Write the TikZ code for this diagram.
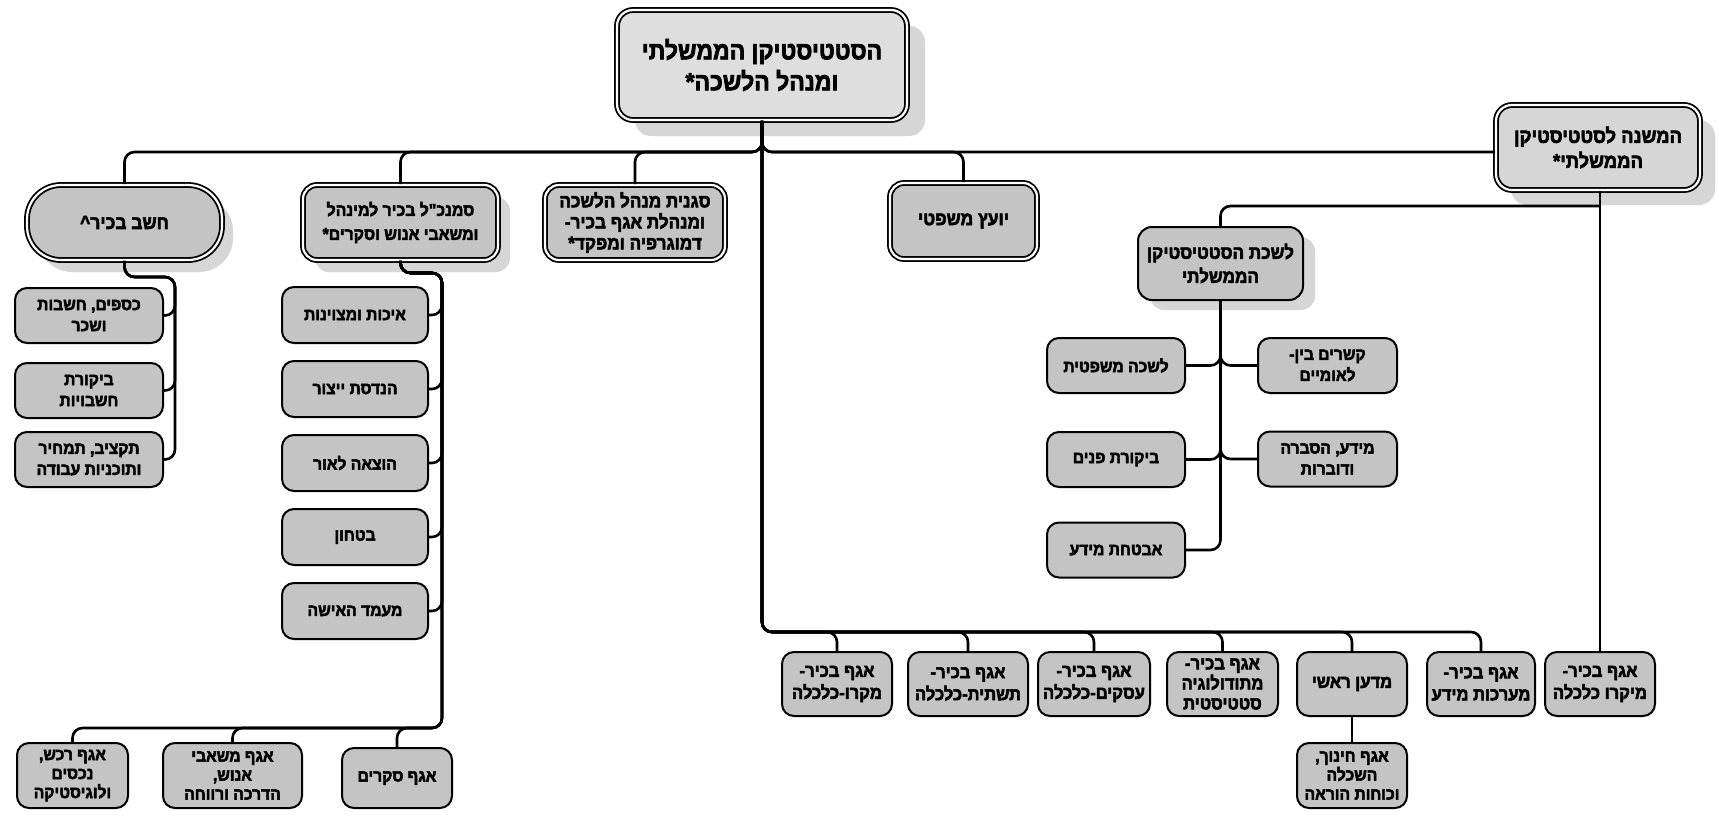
\documentclass[tikz,border=0pt]{standalone}
\usepackage{fontspec}
\newfontfamily\hebfont[Script=Hebrew, UprightFont={* Bold}, FakeBold=2.8, FakeStretch=0.92]{Liberation Sans}
\TeXXeTstate=1
\usetikzlibrary{shadows}
\newcommand\hb[1]{\beginR #1\endR}
\newcommand\fs[2]{\fontsize{#1}{#2}\selectfont}
\tikzset{
  conn/.style={line width=1.3pt, rounded corners=5pt},
  box/.style={draw=black, line width=1pt, fill=black!23, rounded corners=6pt, align=center, inner sep=0pt, font=\hebfont\fs{8.5}{10.5}},
  dbl/.style={double=white, double distance=1.1pt, line width=0.9pt},
  wh/.style 2 args={minimum width=#1*0.5pt, minimum height=#2*0.5pt},
  every shadow/.style={fill=black!16, opacity=1},
  botbox/.style={box, font=\hebfont\fs{9}{11}},
  tribox/.style={box, font=\hebfont\fs{8.5}{9.5}}
}
\begin{document}
\begin{tikzpicture}[x=0.5pt,y=-0.5pt]
\fill[white] (0,0) rectangle (1719,815);
\useasboundingbox (0,0) rectangle (1719,815);

% top level
\node[box, dbl, drop shadow={shadow xshift=9pt, shadow yshift=-8pt}, wh={290}{110}, rounded corners=8pt, fill=black!13, font=\hebfont\fs{12.5}{15.5}] (main) at (762,65) {\hb{הסטטיסטיקן הממשלתי}\\\hb{ומנהל הלשכה*}};
\node[box, dbl, drop shadow={shadow xshift=7.5pt, shadow yshift=-7.5pt}, wh={204}{85}, rounded corners=8pt, fill=black!16, font=\hebfont\fs{10}{12.5}] (deputy) at (1598,147.5) {\hb{המשנה לסטטיסטיקן}\\\hb{הממשלתי*}};

% second row
\node[box, dbl, drop shadow={shadow xshift=5.5pt, shadow yshift=-6pt}, wh={195}{75}, rounded corners=17pt, font=\hebfont\fs{9.5}{12}] (chashav) at (124.5,222.5) {\hb{חשב בכיר\^{}}};
\node[box, dbl, drop shadow={shadow xshift=6pt, shadow yshift=-6pt}, wh={195}{75}, rounded corners=7pt, font=\hebfont\fs{8.6}{12}] (samankal) at (400.5,222.5) {\hb{סמנכ"ל בכיר למינהל}\\\hb{ומשאבי אנוש וסקרים*}};
\node[box, dbl, wh={180}{75}, rounded corners=7pt, font=\hebfont\fs{9.3}{10.5}] (sganit) at (635,222.5) {\hb{סגנית מנהל הלשכה}\\\hb{ומנהלת אגף בכיר-}\\\hb{דמוגרפיה ומפקד*}};
\node[box, dbl, wh={147}{76}, rounded corners=7pt, font=\hebfont\fs{9.5}{11}] (legal) at (963.5,221) {\hb{יועץ משפטי}};
\node[box, drop shadow={shadow xshift=6pt, shadow yshift=-5pt}, wh={165}{73}, rounded corners=7pt, font=\hebfont\fs{9.3}{12}] (lishkat) at (1220.5,263.5) {\hb{לשכת הסטטיסטיקן}\\\hb{הממשלתי}};

% chashav children
\node[box, wh={148}{55}] (ch1) at (89,315.5) {\hb{כספים, חשבות}\\\hb{ושכר}};
\node[box, wh={148}{55}] (ch2) at (89,390.5) {\hb{ביקורת}\\\hb{חשבויות}};
\node[box, wh={148}{55}] (ch3) at (89,459.5) {\hb{תקציב, תמחיר}\\\hb{ותוכניות עבודה}};

% samankal children
\node[box, wh={146}{56}] (s1) at (355,315) {\hb{איכות ומצוינות}};
\node[box, wh={146}{56}] (s2) at (355,389) {\hb{הנדסת ייצור}};
\node[box, wh={146}{56}] (s3) at (355,463) {\hb{הוצאה לאור}};
\node[box, wh={146}{56}] (s4) at (355,537) {\hb{בטחון}};
\node[box, wh={146}{56}] (s5) at (355,611) {\hb{מעמד האישה}};

\node[tribox, wh={111}{65}] (b1) at (72.5,775.5) {\hb{אגף רכש,}\\\hb{נכסים}\\\hb{ולוגיסטיקה}};
\node[tribox, wh={139}{65}] (b2) at (232.5,775.5) {\hb{אגף משאבי}\\\hb{אנוש,}\\\hb{הדרכה ורווחה}};
\node[tribox, wh={110}{60}] (b3) at (397,778) {\hb{אגף סקרים}};

% lishkat children
\node[box, wh={138}{55}] (l1) at (1116,365.5) {\hb{לשכה משפטית}};
\node[box, wh={138}{55}] (l2) at (1116,459.5) {\hb{ביקורת פנים}};
\node[box, wh={138}{55}] (l3) at (1116,550) {\hb{אבטחת מידע}};
\node[box, wh={139}{55}] (r1) at (1327.5,365.5) {\hb{קשרים בין-}\\\hb{לאומיים}};
\node[box, wh={139}{55}] (r2) at (1327.5,459) {\hb{מידע, הסברה}\\\hb{ודוברות}};

% bottom right row
\node[botbox, wh={110}{64}] (m1) at (837,684) {\hb{אגף בכיר-}\\\hb{מקרו-כלכלה}};
\node[botbox, wh={120}{64}] (m2) at (968,684) {\hb{אגף בכיר-}\\\hb{תשתית-כלכלה}};
\node[botbox, wh={112}{64}] (m3) at (1094,684) {\hb{אגף בכיר-}\\\hb{עסקים-כלכלה}};
\node[botbox, wh={111}{64}, font=\hebfont\fs{9}{10}] (m4) at (1222.5,684) {\hb{אגף בכיר-}\\\hb{מתודולוגיה}\\\hb{סטטיסטית}};
\node[botbox, wh={110}{64}] (m5) at (1352,684) {\hb{מדען ראשי}};
\node[botbox, wh={108}{64}] (m6) at (1481,684) {\hb{אגף בכיר-}\\\hb{מערכות מידע}};
\node[botbox, wh={110}{64}] (m7) at (1600,684) {\hb{אגף בכיר-}\\\hb{מיקרו כלכלה}};
\node[tribox, wh={110}{65}] (m8) at (1352,775.5) {\hb{אגף חינוך,}\\\hb{השכלה}\\\hb{וכוחות הוראה}};

% connectors
\coordinate (tb) at (762,152);
\coordinate (bb) at (762,632);
\foreach \n in {chashav,samankal,sganit,legal}
  \draw[conn] (main.south) -- (tb) -| (\n.north);
\draw[conn] (main.south) -- (tb) -- (tb -| deputy.west);
\foreach \n in {m1,m2,m3,m4,m5,m6}
  \draw[conn] (main.south) -- (bb) -| (\n.north);
\draw[conn] (m7.north |- deputy.south) -- (m7.north);
\draw[conn] (m5.south) -- (m8.north);
\coordinate (lj) at (1600,206);
\draw[conn] (lj) -| (lishkat.north);
\foreach \n in {l1,l2,l3}
  \draw[conn] (lishkat.south) |- (\n.east);
\foreach \n in {r1,r2}
  \draw[conn] (lishkat.south) |- (\n.west);
\coordinate (cj) at (175,277);
\foreach \n in {ch1,ch2,ch3}
  \draw[conn] (chashav.south) |- (cj) |- (\n.east);
\coordinate (sj) at (442,273);
\coordinate (sb) at (442,728);
\foreach \n in {s1,s2,s3,s4,s5}
  \draw[conn] (samankal.south) |- (sj) |- (\n.east);
\foreach \n in {b1,b2,b3}
  \draw[conn] (samankal.south) |- (sj) -- (sb) -| (\n.north);
\end{tikzpicture}
\end{document}
